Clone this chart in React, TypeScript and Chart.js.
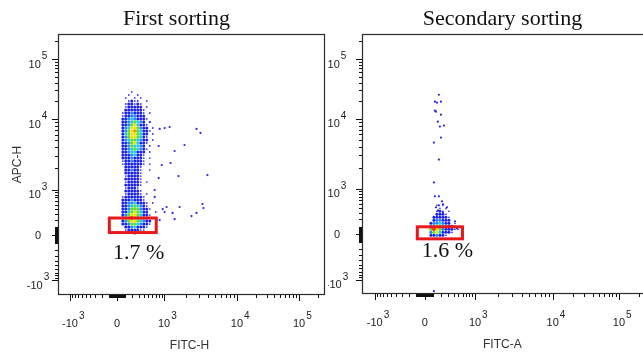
import React, { useEffect, useRef } from 'react';
import { Chart, registerables, LinearScale } from 'chart.js';

Chart.register(...registerables);

// ---------------- data ----------------
// Left panel ("First sorting"): density grid.
const leftFitcBins = [34, 72, 110, 150, 192, 237, 286, 339, 397, 461, 533, 611, 699];
const leftApcBins = [
  28380, 25240, 22500, 20050, 17870, 15930, 14200, 12650, 11280, 10050, 9100, 8260,
  7480, 6790, 6150, 5570, 5050, 4580, 4150, 3760, 3410, 3090, 2800, 2540,
  2300, 2090, 1890, 1715, 1555, 1410, 1277, 1158, 1050, 941, 822, 718,
  624, 541, 467, 399, 339, 284, 234, 187, 144, 102, 63, 24,
];
const leftDensity = [
  '    .        ',
  '   .  .      ',
  '  .  . .     ',
  '   .b..  .   ',
  '  .bb.b.     ',
  '  .bbbbb .   ',
  '  bbbbbb.    ',
  ' .bblbbb. .  ',
  ' .bbllbbb    ',
  ' bblclbbb.   ',
  ' bblcgclb .  ',
  ' bblgycbb.   ',
  ' blcyyglbb . ',
  ' blgyogcbb.  ',
  ' bcgyygcbb . ',
  ' blgyygcb.   ',
  ' blcggclbb . ',
  ' bblgycbb.   ',
  ' bblgcclb .  ',
  ' bblcgclb.   ',
  ' bblccbbb .  ',
  ' bbblcbb.    ',
  ' bbblbbb. .  ',
  ' .bblbbb.    ',
  ' .bbbbbb. .  ',
  '  bbbbb.     ',
  '  bblbb.  .  ',
  '  bbbbb.     ',
  '  .bbbb.     ',
  '  bbbbb.     ',
  '  .bbbb. .   ',
  '  bbbbb.     ',
  '  .bbb.      ',
  '  bbbbb.     ',
  '  .bbbb. .   ',
  ' .bbbbbb.    ',
  ' bbblbbb.    ',
  ' bbllcbbb. . ',
  ' bblcgclb.   ',
  ' bblggglbb.  ',
  ' bbcgygcbb  .',
  ' blgyygcbb.  ',
  ' bgyryglbb.  ',
  ' blgyygclbb  ',
  ' bblggclbb.  ',
  '  bblcbbb.   ',
  '  .bbbb..    ',
  '   ..b.      ',
];
const leftOutliers: [number, number][] = [
  [533, 9100], [831, 7245], [1020, 7480], [1193, 7730], [2790, 7245], [3162, 6360],
  [797, 4150], [1910, 4290], [1397, 3524], [907, 2230], [1231, 2381], [1582, 1555],
  [3945, 1607], [797, 1456], [666, 980], [666, 718], [1085, 443], [1635, 443],
  [947, 399], [1310, 322], [2383, 266], [2790, 322], [3370, 515], [3476, 421],
  [1020, 339], [730, 202], [1397, 215], [831, 202],
];
const leftGateFitc = [-95, 714];
const leftGateApc = [31, 234];
const leftGateLabel = '1.7 %';
const leftGateLabelAt = [-49, -360];

// Right panel ("Secondary sorting")
const rightFitcBins = [35, 70, 106, 143, 182, 224, 269, 317, 370, 427, 490, 560];
const rightApcBins = [467, 399, 339, 284, 234, 187, 144, 102, 63, 24, -14, -52];
const rightDensity = [
  '   . .      ',
  '    . .     ',
  '   .b. .    ',
  '   bbb.     ',
  '  bbbbb.    ',
  '  bllbbb    ',
  ' bllclbb .  ',
  ' lcygclbb.  ',
  ' gryglbbb.. ',
  ' lgycbbb.   ',
  ' bblbb.     ',
  '   .        ',
];
const rightOutliers: [number, number][] = [
  [169, 25240], [118, 19300], [143, 18580], [196, 19300], [118, 13670], [131, 13150],
  [196, 11720], [156, 9100], [182, 7730], [239, 7990], [196, 5393], [106, 4580],
  [169, 2626], [106, 1237], [118, 718], [169, 718], [210, 567], [169, 467],
  [224, 491], [131, 421], [285, 421], [156, 358], [224, 322], [427, 172],
  [468, 76], [106, -1467],
];
const rightGateFitc = [-88, 597];
const rightGateApc = [-59, 96];
const rightGateLabel = '1.6 %';
const rightGateLabelAt = [-35, -340];

// Axis ticks
const MAJOR_TICKS = [-1000, 0, 1000, 10000, 100000];
const MAJOR_LABELS: [string, string][] = [['-10', '3'], ['0', ''], ['10', '3'], ['10', '4'], ['10', '5']];
const MINOR_TICKS = [
  -900, -800, -700, -600, -500, -400, -300, -200, -100,
  -90, -80, -70, -60, -50, -40, -30, -20, -10,
  10, 20, 30, 40, 50, 60, 70, 80, 90,
  100, 200, 300, 400, 500, 600, 700, 800, 900,
  2000, 3000, 4000, 5000, 6000, 7000, 8000, 9000,
  20000, 30000, 40000, 50000, 60000, 70000, 80000, 90000,
  200000,
];
const AXIS_MIN_X = -1458;
const AXIS_MIN_Y = -1609;
const AXIS_MAX = 262144;

// ---------------- biexponential scale ----------------
const LIN_C = 300;
const LIN_SPAN = Math.asinh(1000 / LIN_C);
const DEC_MID = 1.55;
const DEC_HIGH = 1.32;

function biex(v: number): number {
  const a = Math.abs(v);
  const s = v < 0 ? -1 : 1;
  let t: number;
  if (a <= 1000) t = Math.asinh(a / LIN_C) / LIN_SPAN;
  else if (a <= 10000) t = 1 + (Math.log10(a) - 3) * DEC_MID;
  else t = 1 + DEC_MID + (Math.log10(a) - 4) * DEC_HIGH;
  return s * t;
}
function biexInverse(t: number): number {
  const a = Math.abs(t);
  const s = t < 0 ? -1 : 1;
  let v: number;
  if (a <= 1) v = LIN_C * Math.sinh(a * LIN_SPAN);
  else if (a <= 1 + DEC_MID) v = Math.pow(10, 3 + (a - 1) / DEC_MID);
  else v = Math.pow(10, 4 + (a - 1 - DEC_MID) / DEC_HIGH);
  return s * v;
}

class BiexScale extends LinearScale {
  static id = 'biex';
  static defaults = {};
  getPixelForValue(value: any) {
    if (value === null || value === undefined || isNaN(value)) return NaN;
    const lo = biex((this as any).min);
    const hi = biex((this as any).max);
    return this.getPixelForDecimal((biex(value) - lo) / (hi - lo));
  }
  getValueForPixel(pixel: number) {
    const lo = biex((this as any).min);
    const hi = biex((this as any).max);
    return biexInverse(lo + this.getDecimalForPixel(pixel) * (hi - lo));
  }
}
Chart.register(BiexScale as any);

// ---------------- styling ----------------
const LEVELS = [
  { key: 'r', color: '#f03010', radius: 1.8 },
  { key: 'o', color: '#f8960e', radius: 1.8 },
  { key: 'y', color: '#efe41c', radius: 1.75 },
  { key: 'g', color: '#62dc3a', radius: 1.7 },
  { key: 'c', color: '#24cde0', radius: 1.65 },
  { key: 'l', color: '#2f84f6', radius: 1.6 },
  { key: 'b', color: '#1e22ee', radius: 1.5 },
  { key: '.', color: '#3a3ae6', radius: 0.9 },
];

const SANS = '"Liberation Sans", Arial, sans-serif';
const SERIF = '"Liberation Serif", "Times New Roman", serif';

type Panel = {
  cols: number[]; rows: number[]; grid: string[]; outliers: [number, number][];
  gateX: number[]; gateY: number[]; gateLabel: string; gateLabelAt: number[];
  title: string; titleX: number; xTitle: string; yTitle: string;
  yLabelOffset: number; padding: { left: number; right: number; top: number; bottom: number };
};

const LEFT: Panel = {
  cols: leftFitcBins, rows: leftApcBins, grid: leftDensity, outliers: leftOutliers,
  gateX: leftGateFitc, gateY: leftGateApc, gateLabel: leftGateLabel, gateLabelAt: leftGateLabelAt,
  title: 'First sorting', titleX: 176.5, xTitle: 'FITC-H', yTitle: 'APC-H',
  yLabelOffset: 20, padding: { left: 58, right: 3, top: 34, bottom: 61 },
};
const RIGHT: Panel = {
  cols: rightFitcBins, rows: rightApcBins, grid: rightDensity, outliers: rightOutliers,
  gateX: rightGateFitc, gateY: rightGateApc, gateLabel: rightGateLabel, gateLabelAt: rightGateLabelAt,
  title: 'Secondary sorting', titleX: 502.5, xTitle: 'FITC-A', yTitle: '',
  yLabelOffset: 25, padding: { left: 362, right: 53.4, top: 34, bottom: 62 },
};

function buildDatasets(p: Panel) {
  const ds: any[] = LEVELS.map((l) => ({
    data: [] as { x: number; y: number }[],
    backgroundColor: l.color, borderWidth: 0, pointRadius: l.radius, pointHoverRadius: 0,
  }));
  p.grid.forEach((line, i) => {
    for (let j = 0; j < line.length && j < p.cols.length; j++) {
      const k = LEVELS.findIndex((l) => l.key === line[j]);
      if (k >= 0 && i < p.rows.length) ds[k].data.push({ x: p.cols[j], y: p.rows[i] });
    }
  });
  ds.push({
    data: p.outliers.map(([x, y]) => ({ x, y })),
    backgroundColor: '#2626e6', borderWidth: 0, pointRadius: 1.1, pointHoverRadius: 0,
  });
  return ds;
}

function makeAxesPlugin(p: Panel) {
  return {
    id: 'flowAxes',
    afterDatasetsDraw(chart: any) {
      const ctx: CanvasRenderingContext2D = chart.ctx;
      const a = chart.chartArea;
      const xs = chart.scales.x;
      const ys = chart.scales.y;
      ctx.save();

      // gate
      const gx0 = xs.getPixelForValue(p.gateX[0]);
      const gx1 = xs.getPixelForValue(p.gateX[1]);
      const gy0 = ys.getPixelForValue(p.gateY[0]);
      const gy1 = ys.getPixelForValue(p.gateY[1]);
      ctx.strokeStyle = '#e8191c';
      ctx.lineWidth = 3;
      ctx.strokeRect(gx0, gy1, gx1 - gx0, gy0 - gy1);

      // gate percentage
      ctx.fillStyle = '#111';
      ctx.font = `22px ${SERIF}`;
      ctx.textAlign = 'left';
      ctx.textBaseline = 'alphabetic';
      ctx.fillText(p.gateLabel, xs.getPixelForValue(p.gateLabelAt[0]), ys.getPixelForValue(p.gateLabelAt[1]));

      // box
      ctx.strokeStyle = '#2a2a2a';
      ctx.lineWidth = 1.2;
      ctx.strokeRect(a.left + 0.5, a.top + 0.5, a.right - a.left - 1, a.bottom - a.top - 1);

      // ticks
      ctx.strokeStyle = '#111';
      ctx.lineWidth = 1;
      const all: [number, number][] = [
        ...MAJOR_TICKS.map((v) => [v, 6] as [number, number]),
        ...MINOR_TICKS.map((v) => [v, 3] as [number, number]),
      ];
      ctx.beginPath();
      for (const [v, len] of all) {
        const px = Math.round(xs.getPixelForValue(v)) + 0.5;
        if (px >= a.left && px <= a.right) {
          ctx.moveTo(px, a.bottom);
          ctx.lineTo(px, a.bottom + len);
        }
        const py = Math.round(ys.getPixelForValue(v)) + 0.5;
        if (py >= a.top && py <= a.bottom) {
          ctx.moveTo(a.left, py);
          ctx.lineTo(a.left - len, py);
        }
      }
      ctx.stroke();

      // tick labels
      ctx.fillStyle = '#222';
      ctx.textAlign = 'left';
      const baseFont = `11px ${SANS}`;
      const supFont = `10px ${SANS}`;
      MAJOR_TICKS.forEach((v, i) => {
        const [base, sup] = MAJOR_LABELS[i];
        ctx.font = baseFont;
        const bw = ctx.measureText(base).width;
        ctx.font = supFont;
        const sw = sup ? ctx.measureText(sup).width : 0;
        // x axis: base centred on tick
        const px = xs.getPixelForValue(v);
        const xBase = a.bottom + 32;
        ctx.font = baseFont;
        ctx.fillText(base, px - bw / 2, xBase);
        if (sup) {
          ctx.font = supFont;
          ctx.fillText(sup, px + bw / 2 + 1, xBase - 8.5);
        }
        // y axis: whole label centred left of the axis
        const py = ys.getPixelForValue(v);
        const whole = bw + (sup ? 1 + sw : 0);
        const cx = a.left - p.yLabelOffset;
        const yBase = sup ? py + 8.5 : py + 4;
        ctx.font = baseFont;
        ctx.fillText(base, cx - whole / 2, yBase);
        if (sup) {
          ctx.font = supFont;
          ctx.fillText(sup, cx - whole / 2 + bw + 1, yBase - 8.5);
        }
      });

      // axis titles
      ctx.fillStyle = '#333';
      ctx.font = `12px ${SANS}`;
      ctx.textAlign = 'center';
      ctx.textBaseline = 'alphabetic';
      ctx.fillText(p.xTitle, (a.left + a.right) / 2 - 2, a.bottom + 54);
      if (p.yTitle) {
        ctx.save();
        ctx.translate(21, (a.top + a.bottom) / 2);
        ctx.rotate(-Math.PI / 2);
        ctx.fillText(p.yTitle, 0, 0);
        ctx.restore();
      }

      // panel title
      ctx.fillStyle = '#111';
      ctx.font = `22px ${SERIF}`;
      ctx.textAlign = 'center';
      ctx.fillText(p.title, p.titleX, 24.5);

      ctx.restore();
    },
  };
}

function buildConfig(p: Panel): any {
  return {
    type: 'scatter',
    data: { datasets: buildDatasets(p) },
    options: {
      animation: false,
      responsive: false,
      events: [],
      layout: { padding: p.padding, autoPadding: false },
      plugins: { legend: { display: false }, tooltip: { enabled: false }, title: { display: false } },
      scales: {
        x: { type: 'biex', min: AXIS_MIN_X, max: AXIS_MAX, display: false, bounds: 'data' },
        y: { type: 'biex', min: AXIS_MIN_Y, max: AXIS_MAX, display: false, bounds: 'data' },
      },
    },
    plugins: [makeAxesPlugin(p)],
  };
}

export default function App() {
  const leftRef = useRef<HTMLCanvasElement>(null);
  const rightRef = useRef<HTMLCanvasElement>(null);
  useEffect(() => {
    const c1 = new Chart(leftRef.current as HTMLCanvasElement, buildConfig(LEFT));
    const c2 = new Chart(rightRef.current as HTMLCanvasElement, buildConfig(RIGHT));
    return () => {
      c1.destroy();
      c2.destroy();
    };
  }, []);
  return (
    <div style={{ position: 'fixed', left: 0, top: 0, width: 643, height: 356, overflow: 'hidden', background: '#fff' }}>
      <canvas ref={rightRef} width={700} height={356} style={{ position: 'absolute', left: 0, top: 0, zIndex: 1 }} />
      <canvas ref={leftRef} width={328} height={356} style={{ position: 'absolute', left: 0, top: 0, zIndex: 2, background: '#fff' }} />
    </div>
  );
}
